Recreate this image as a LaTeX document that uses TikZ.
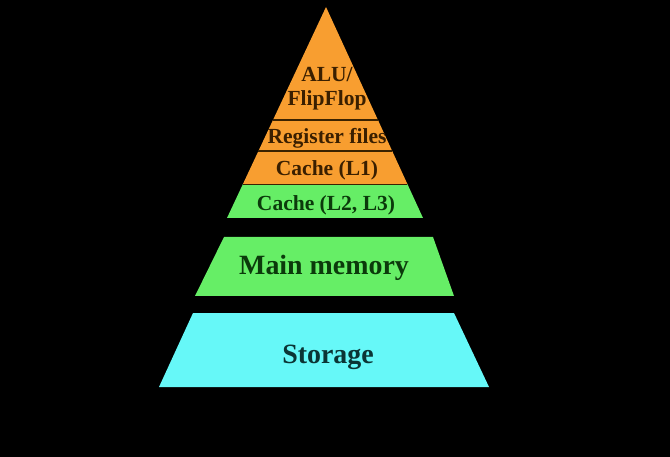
\documentclass[tikz,border=0pt]{standalone}
\usepackage{fontspec}
\setmainfont{Liberation Serif}
\usepackage{xcolor}
\usetikzlibrary{calc}

\definecolor{cpuorange}{HTML}{F89E30}
\definecolor{cpubrown}{HTML}{3A1F00}
\definecolor{memgreen}{HTML}{66EE66}
\definecolor{memdark}{HTML}{0B3A0B}
\definecolor{diskcyan}{HTML}{66F8F8}
\definecolor{diskdark}{HTML}{0B3535}
\definecolor{divbrown}{HTML}{3A2200}

\begin{document}
\begin{tikzpicture}[x=1bp, y=-1bp,
    % Styles for the levels of the pyramid
    level/.style={font=\bfseries\fontsize{21.6}{24}\selectfont, align=center, inner sep=0pt},
    biglevel/.style={level, font=\bfseries\fontsize{28}{30}\selectfont},
    divider/.style={line width=1.8bp, color=divbrown}
]

% Background
\fill[black] (0,0) rectangle (670,457);
\useasboundingbox (0,0) rectangle (670,457);

% Top triangle: CPU side
\coordinate (apex) at (326,7);
\coordinate (bl) at (227,218);
\coordinate (br) at (423,218);

\fill[cpuorange] (apex) -- ($(apex)!0.8389!(bl)$) -- ($(apex)!0.8389!(br)$) -- cycle;
\fill[memgreen] ($(apex)!0.8389!(bl)$) -- (bl) -- (br) -- ($(apex)!0.8389!(br)$) -- cycle;

\draw[divider] ($(apex)!0.5355!(bl)$) -- ($(apex)!0.5355!(br)$);
\draw[divider] ($(apex)!0.6825!(bl)$) -- ($(apex)!0.6825!(br)$);
\draw[divider, line width=1bp] ($(apex)!0.8389!(bl)$) -- ($(apex)!0.8389!(br)$);

% Main memory and storage
\fill[memgreen] (224,237) -- (433,237) -- (454,296) -- (195,296) -- cycle;
\fill[diskcyan] (193,313) -- (454,313) -- (489,387) -- (159,387) -- cycle;

% Labels
\node[level, text=cpubrown] (alu) at (327,89) {ALU/\\FlipFlop};
\node[level, text=cpubrown, anchor=base] (regs) at (327,144) {Register files};
\node[level, text=cpubrown, anchor=base] (cachea) at (327,176) {Cache (L1)};
\node[level, text=memdark, anchor=base] (cacheb) at (326,211) {Cache (L2, L3)};
\node[biglevel, text=memdark, anchor=base] (mainmem) at (324,275) {Main memory};
\node[biglevel, text=diskdark, anchor=base] (storage) at (328,363) {Storage};

\end{tikzpicture}
\end{document}
